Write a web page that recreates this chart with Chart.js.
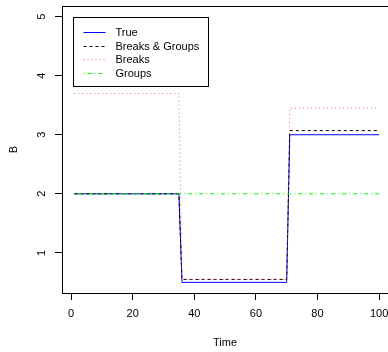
<!DOCTYPE html>
<html>
<head>
<meta charset="utf-8">
<script src="https://cdn.jsdelivr.net/npm/chart.js@4/dist/chart.umd.min.js"></script>
<style>
  html, body { margin: 0; padding: 0; background: #fff; }
  canvas { display: block; }
</style>
</head>
<body>
<canvas id="stepChart" width="388" height="352"></canvas>
<script>
// Data (breakpoints of the step series)
const time = [1, 35, 36, 70, 71, 100];
const trueB = [2, 2, 0.5, 0.5, 3, 3];
const breaksGroupsB = [2, 2, 0.55, 0.55, 3.07, 3.07];
const breaksB = [3.7, 3.7, 0.55, 0.55, 3.45, 3.45];
const groupsB = [2, 2, 2, 2, 2, 2];
const seriesLabels = ['True', 'Breaks & Groups', 'Breaks', 'Groups'];
const xTicks = [0, 20, 40, 60, 80, 100];
const yTicks = [1, 2, 3, 4, 5];

const FONT = '"Liberation Sans", Arial, Helvetica, sans-serif';

function points(ys) {
  return time.map((t, i) => ({ x: t, y: ys[i] }));
}

// Plot frame top line + legend box (R style)
const plotFrame = {
  id: 'plotFrame',
  afterDraw(chart) {
    const { ctx, chartArea } = chart;
    ctx.save();
    ctx.strokeStyle = '#000';
    ctx.lineWidth = 1;
    ctx.beginPath();
    ctx.moveTo(chartArea.left, Math.round(chartArea.top) + 0.5);
    ctx.lineTo(chartArea.right, Math.round(chartArea.top) + 0.5);
    ctx.stroke();
    ctx.restore();
  }
};

const legendBox = {
  id: 'legendBox',
  afterDraw(chart, args, opts) {
    const { ctx, chartArea } = chart;
    const x0 = Math.round(chartArea.left + opts.left) + 0.5;
    const y0 = Math.round(chartArea.top + opts.top) + 0.5;
    ctx.save();
    ctx.strokeStyle = '#000';
    ctx.lineWidth = 1;
    ctx.strokeRect(x0, y0, opts.width, opts.height);
    ctx.font = '11px ' + FONT;
    ctx.textBaseline = 'middle';
    ctx.textAlign = 'left';
    chart.data.datasets.forEach((ds, i) => {
      const y = Math.round(y0 + opts.first + i * opts.step) + 0.5;
      ctx.setLineDash(ds.borderDash || []);
      ctx.strokeStyle = ds.borderColor;
      ctx.beginPath();
      ctx.moveTo(x0 + opts.lineFrom, y);
      ctx.lineTo(x0 + opts.lineTo, y);
      ctx.stroke();
      ctx.setLineDash([]);
      ctx.fillStyle = '#000';
      ctx.fillText(ds.label, x0 + opts.textX, y);
    });
    ctx.restore();
  }
};

function fixWidth(w) {
  return (scale) => {
    scale.width = w;
    scale.paddingTop = scale.paddingBottom = scale.paddingLeft = scale.paddingRight = 0;
  };
}
function fixHeight(h) {
  return (scale) => {
    scale.height = h;
    scale.paddingTop = scale.paddingBottom = scale.paddingLeft = scale.paddingRight = 0;
  };
}

const ctx = document.getElementById('stepChart').getContext('2d');
const stepChart = new Chart(ctx, {
  type: 'line',
  data: {
    datasets: [{
      label: seriesLabels[0],
      data: points(trueB),
      borderColor: '#0000ff',
      borderWidth: 1,
      order: 4
    }, {
      label: seriesLabels[1],
      data: points(breaksGroupsB),
      borderColor: '#000000',
      borderDash: [3, 3],
      borderWidth: 1,
      order: 3
    }, {
      label: seriesLabels[2],
      data: points(breaksB),
      borderColor: 'rgba(240, 70, 70, 0.8)',
      borderDash: [1, 3],
      borderWidth: 1,
      order: 2
    }, {
      label: seriesLabels[3],
      data: points(groupsB),
      borderColor: '#00ff00',
      borderDash: [1, 3, 4, 3],
      borderWidth: 1,
      order: 1
    }]
  },
  options: {
    responsive: false,
    animation: false,
    events: [],
    layout: { padding: { top: 6, left: 0, right: 0, bottom: 0 } },
    elements: {
      point: { radius: 0 },
      line: { tension: 0, fill: false }
    },
    plugins: {
      legend: { display: false },
      tooltip: { enabled: false },
      legendBox: {
        left: 11, top: 10.5, width: 135, height: 69,
        first: 14.5, step: 13.6,
        lineFrom: 10, lineTo: 32, textX: 42
      }
    },
    scales: {
      x: {
        type: 'linear',
        position: 'bottom',
        min: -2.96,
        max: 102.9,
        afterFit: fixHeight(59),
        afterBuildTicks: (scale) => { scale.ticks = xTicks.map(v => ({ value: v })); },
        ticks: {
          color: '#000',
          padding: 7,
          maxRotation: 0,
          autoSkip: false,
          font: { family: FONT, size: 11 }
        },
        grid: {
          drawOnChartArea: false,
          drawTicks: true,
          tickLength: 7,
          color: '#000',
          lineWidth: 1
        },
        border: { display: true, color: '#000', width: 1 },
        title: {
          display: true,
          text: 'Time',
          color: '#000',
          padding: { top: 0, bottom: 2 },
          font: { family: FONT, size: 11 }
        }
      },
      y: {
        type: 'linear',
        min: 0.32,
        max: 5.18,
        afterFit: fixWidth(62),
        afterBuildTicks: (scale) => { scale.ticks = yTicks.map(v => ({ value: v })); },
        ticks: {
          color: '#000',
          padding: 10,
          minRotation: 90,
          maxRotation: 90,
          crossAlign: 'center',
          autoSkip: false,
          font: { family: FONT, size: 11 }
        },
        grid: {
          drawOnChartArea: false,
          drawTicks: true,
          tickLength: 7,
          color: '#000',
          lineWidth: 1
        },
        border: { display: true, color: '#000', width: 1 },
        title: {
          display: true,
          text: 'B',
          color: '#000',
          padding: { top: 7, bottom: 0 },
          font: { family: FONT, size: 11 }
        }
      }
    }
  },
  plugins: [plotFrame, legendBox]
});
</script>
</body>
</html>
